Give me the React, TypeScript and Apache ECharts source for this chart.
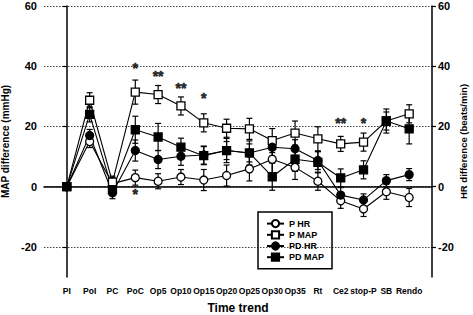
import { useEffect, useRef } from 'react';
import * as echarts from 'echarts';

const categories = ['PI', 'PoI', 'PC', 'PoC', 'Op5', 'Op10', 'Op15', 'Op20', 'Op25', 'Op30', 'Op35', 'Rt', 'Ce2', 'stop-P', 'SB', 'Rendo'];

const pHR = [0, 15, 1, 3, 1.8, 3.2, 2.2, 3.7, 5.9, 9.1, 6.4, 1.8, -4.7, -7.4, -1.7, -3.6];
const pHRErr = [0, 2, 2, 2.5, 2.5, 2.5, 3.5, 3.5, 4, 4.5, 4, 3, 2.5, 2.5, 2.5, 3];
const pMAP = [0, 28.7, 1.5, 31.4, 30.6, 26.8, 21.2, 19.4, 19.2, 15.3, 17.8, 15.9, 14.2, 14.8, 21.8, 24.2];
const pMAPErr = [0, 2.5, 2, 4, 3, 3, 3, 3, 3.5, 4, 4, 4, 2.5, 3, 3, 3];
const pdHR = [0, 17, -2, 12, 9, 10.1, 10.5, 12, 11.2, 13.1, 12.6, 8.7, -2.8, -4.4, 2, 4];
const pdHRErr = [0, 2, 2, 3.5, 3, 3, 3, 3, 3, 3, 3, 3, 2.5, 2, 2, 2];
const pdMAP = [0, 24, -1, 18.9, 16.5, 13.1, 10.3, 12, 11.2, 3.3, 9.1, 8.1, 2.9, 5.6, 21.8, 19.2];
const pdMAPErr = [0, 2.5, 2, 4.5, 4.5, 3, 3, 4, 4, 4.5, 4, 3.5, 3, 3, 4, 5];

const yTicks = [-20, 0, 20, 40, 60];

const starIdx = [3, 4, 5, 6, 12, 13, 3];
const starY = [39.3, 36.7, 32.7, 29.3, 21, 21, -2.3];
const starText = ['*', '**', '**', '*', '**', '*', '*'];

const FONT = '"Liberation Sans", Arial, sans-serif';

function toPts(vals: number[]) {
  return vals.map((v, i) => [i, v]);
}
function toErr(vals: number[], errs: number[]) {
  return vals.map((v, i) => [i, v, errs[i]]);
}

export default function App() {
  const ref = useRef<HTMLDivElement>(null);
  useEffect(() => {
    if (!ref.current) return;
    const chart = echarts.init(ref.current, null, { renderer: 'svg' });

    const errSeries = (name: string, vals: number[], errs: number[]) => ({
      type: 'custom',
      name: name + ' err',
      silent: true,
      z: 1,
      encode: { x: 0, y: 1 },
      data: toErr(vals, errs),
      renderItem: (params: any, api: any) => {
        const x = api.value(0);
        const y = api.value(1);
        const e = api.value(2);
        if (!e) return null;
        const t = api.coord([x, y + e]);
        const b = api.coord([x, y - e]);
        const w = 3;
        const st = { stroke: '#000', lineWidth: 1.2 };
        return {
          type: 'group',
          children: [
            { type: 'line', shape: { x1: t[0], y1: t[1], x2: b[0], y2: b[1] }, style: st },
            { type: 'line', shape: { x1: t[0] - w, y1: t[1], x2: t[0] + w, y2: t[1] }, style: st },
            { type: 'line', shape: { x1: b[0] - w, y1: b[1], x2: b[0] + w, y2: b[1] }, style: st },
          ],
        };
      },
    });

    const lineSeries = (name: string, vals: number[], symbol: string, fill: string, extra: any = {}) => ({
      type: 'line',
      name,
      data: toPts(vals),
      symbol,
      symbolSize: 8,
      showAllSymbol: true,
      z: 3,
      lineStyle: { color: '#000', width: 1.1 },
      itemStyle: { color: fill, borderColor: '#000', borderWidth: 1.3 },
      emphasis: { disabled: true },
      ...extra,
    });

    chart.setOption({
      animation: false,
      backgroundColor: '#fff',
      grid: { left: 44, right: 41, top: 6, bottom: 38, outerBoundsMode: 'none' },
      legend: {
        left: 258,
        top: 212,
        orient: 'vertical',
        data: ['P HR', 'P MAP', 'PD HR', 'PD MAP'],
        borderColor: '#000',
        borderWidth: 1.5,
        padding: [7, 8, 7, 8],
        itemGap: 2,
        itemWidth: 17,
        itemHeight: 9,
        textStyle: { fontFamily: FONT, fontWeight: 'bold', fontSize: 9, color: '#000' },
        selectedMode: false,
      },
      xAxis: {
        type: 'value',
        min: -1,
        max: 16,
        interval: 1,
        name: 'Time trend',
        nameLocation: 'middle',
        nameGap: 25,
        nameTextStyle: { fontFamily: FONT, fontWeight: 'bold', fontSize: 12, color: '#000', verticalAlign: 'top' },
        axisLine: { show: true, lineStyle: { color: '#000', width: 1.5 } },
        axisTick: { show: false },
        splitLine: { show: false },
        axisLabel: {
          margin: 9,
          fontFamily: FONT,
          fontWeight: 'bold',
          fontSize: 8.5,
          color: '#000',
          formatter: (v: number) => categories[v] ?? '',
        },
      },
      yAxis: [
        {
          type: 'value',
          min: -30,
          max: 60,
          position: 'left',
          name: 'MAP difference (mmHg)',
          nameLocation: 'middle',
          nameGap: 25,
          nameRotate: 90,
          nameTextStyle: { fontFamily: FONT, fontWeight: 'bold', fontSize: 10, color: '#000' },
          axisLine: { show: true, lineStyle: { color: '#000', width: 1.5 } },
          axisTick: { show: true, customValues: yTicks, length: 4, lineStyle: { color: '#000', width: 1.2 } },
          splitLine: { show: false },
          axisLabel: {
            customValues: yTicks,
            margin: 7,
            fontFamily: FONT,
            fontWeight: 'bold',
            fontSize: 11,
            color: '#000',
          },
        },
        {
          type: 'value',
          min: -30,
          max: 60,
          position: 'right',
          name: 'HR difference (beats/min)',
          nameLocation: 'middle',
          nameGap: 26,
          nameMoveOverlap: false,
          nameRotate: 90,
          nameTextStyle: { fontFamily: FONT, fontWeight: 'bold', fontSize: 9.5, color: '#000' },
          axisLine: { show: true, lineStyle: { color: '#000', width: 1.5 } },
          axisTick: { show: true, customValues: yTicks, length: 4, lineStyle: { color: '#000', width: 1.2 } },
          splitLine: { show: false },
          axisLabel: {
            customValues: yTicks,
            margin: 6,
            fontFamily: FONT,
            fontWeight: 'bold',
            fontSize: 11,
            color: '#000',
          },
        },
      ],
      series: [
        errSeries('P HR', pHR, pHRErr),
        errSeries('P MAP', pMAP, pMAPErr),
        errSeries('PD HR', pdHR, pdHRErr),
        errSeries('PD MAP', pdMAP, pdMAPErr),
        lineSeries('P HR', pHR, 'circle', '#fff', {
          markLine: {
            silent: true,
            symbol: 'none',
            label: { show: false },
            lineStyle: { color: '#444', type: [1.5, 1.5], width: 1 },
            data: yTicks.map((v) => ({ yAxis: v })),
            z: 0,
          },
        }),
        lineSeries('P MAP', pMAP, 'rect', '#fff'),
        lineSeries('PD HR', pdHR, 'circle', '#000'),
        lineSeries('PD MAP', pdMAP, 'rect', '#000'),
        {
          type: 'scatter',
          name: 'stars',
          silent: true,
          symbolSize: 0.1,
          itemStyle: { color: '#000' },
          z: 5,
          data: starIdx.map((x, i) => ({ value: [x, starY[i]], name: starText[i] })),
          label: {
            show: true,
            position: 'inside',
            formatter: '{b}',
            fontFamily: FONT,
            fontWeight: 'bold',
            fontSize: 14,
            color: '#000',
            textBorderColor: '#000',
            textBorderWidth: 0.6,
          },
        },
      ],
    });
    return () => chart.dispose();
  }, []);
  return (
    <div
      ref={ref}
      style={{ position: 'fixed', left: 0, top: 0, width: 473, height: 315, background: '#fff' }}
    />
  );
}
